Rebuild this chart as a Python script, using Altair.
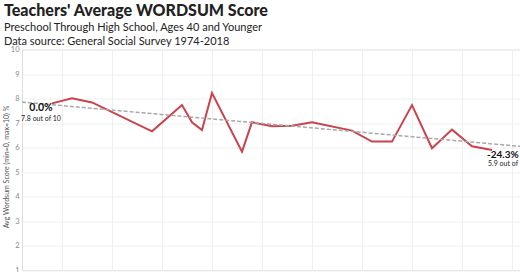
import altair as alt
import pandas as pd

years = [1974, 1976, 1978, 1984, 1987, 1988, 1989, 1990, 1993, 1994, 1996,
         1998, 2000, 2004, 2006, 2008, 2010, 2012, 2014, 2016, 2018]
scores = [7.80, 8.01, 7.84, 6.66, 7.73, 7.03, 6.71, 8.22, 5.83, 7.03, 6.87,
          6.89, 7.03, 6.69, 6.24, 6.24, 7.73, 5.97, 6.73, 6.05, 5.90]

ann_years = [1974, 2018]
ann_values = [7.8, 5.9]
ann_pct = ["0.0%", "-24.3%"]
ann_sub = ["7.8 out of 10", "5.9 out of 10"]

df = pd.DataFrame({"year": years, "value": scores})
ann = pd.DataFrame({"year": ann_years, "value": ann_values, "pct": ann_pct, "sub": ann_sub})

xs = alt.Scale(domain=[1971, 2020.8], nice=False, zero=False)
ys = alt.Scale(domain=[1, 10], nice=False, zero=False)

x_axis = alt.Axis(values=list(range(1975, 2021, 5)), labels=False, ticks=False,
                  domain=False, grid=True, gridColor="#efefef", title=None)
y_axis = alt.Axis(values=list(range(1, 11)), ticks=False, domain=False, grid=True,
                  gridColor="#efefef", labelColor="#8a8a8a", labelFontSize=7.5,
                  labelFont="Lato", labelPadding=3, labelOverlap=False,
                  labelFlush=False,
                  title="Avg Wordsum Score (min=0, max=10) %", titleFontSize=7,
                  titleFont="Lato", titleFontWeight="normal", titleColor="#555",
                  titleX=-16, titleY=117, titleAngle=-90, titleAlign="center",
                  titleBaseline="middle")

X = alt.X("year:Q", scale=xs, axis=x_axis)
Y = alt.Y("value:Q", scale=ys, axis=y_axis)

base = alt.Chart(df)

line = base.mark_line(color="#c9434d", strokeWidth=2).encode(x=X, y=Y)

trend = base.transform_regression("year", "value", extent=[1971, 2020.8]).mark_line(
    color="#a8a8a8", strokeWidth=1.5, strokeDash=[4, 2]
).encode(x=X, y=Y)

annb = alt.Chart(ann)
pct_start = annb.transform_filter(alt.datum.year == 1974).mark_text(
    font="Lato", fontWeight="bold", fontSize=10.5, color="#111", dx=-11, dy=5,
    baseline="middle", align="center"
).encode(x=X, y=Y, text="pct:N")
sub_start = annb.transform_filter(alt.datum.year == 1974).mark_text(
    font="Lato", fontSize=7, color="#222", dx=-11, dy=16,
    baseline="middle", align="center"
).encode(x=X, y=Y, text="sub:N")
pct_end = annb.transform_filter(alt.datum.year == 2018).mark_text(
    font="Lato", fontWeight="bold", fontSize=10, color="#111", dx=-5, dy=5,
    baseline="middle", align="left"
).encode(x=X, y=Y, text="pct:N")
sub_end = annb.transform_filter(alt.datum.year == 2018).mark_text(
    font="Lato", fontSize=7, color="#222", dx=-4, dy=14.5,
    baseline="middle", align="left"
).encode(x=X, y=Y, text="sub:N")

chart = alt.layer(line, trend, pct_start, sub_start, pct_end, sub_end).properties(
    width=498,
    height=220.5,
    title=alt.Title(
        "Teachers' Average WORDSUM Score",
        subtitle=["Preschool Through High School, Ages 40 and Younger",
                  "Data source: General Social Survey 1974-2018"],
        anchor="start", frame="group", dx=-18, offset=-1,
        font="Lato", fontSize=16, fontWeight=900, color="#222",
        subtitleFont="Lato", subtitleFontSize=11, subtitleColor="#222",
        subtitlePadding=3, subtitleLineHeight=14,
    ),
    padding={"left": 22, "top": 49.5, "right": 0, "bottom": 2},
    autosize=alt.AutoSizeParams(type="none"),
).configure_view(stroke=None).configure_axisY(labelOverlap=False).configure(background="white")

chart.save("out.html", embed_options={"renderer": "svg", "actions": False})
